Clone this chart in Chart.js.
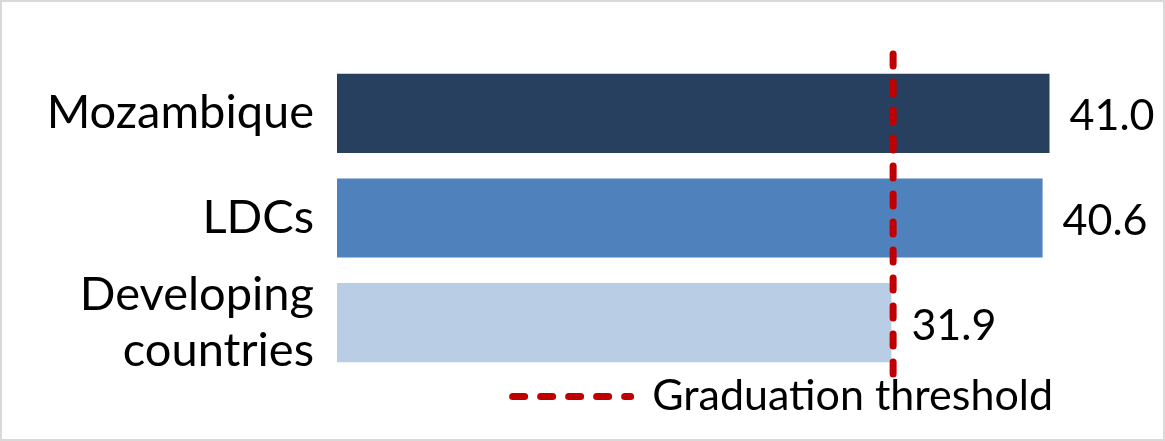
<!DOCTYPE html>
<html>
<head>
<meta charset="utf-8">
<script src="https://cdn.jsdelivr.net/npm/chart.js@4"></script>
<style>
  html, body { margin: 0; padding: 0; background: #fff; }
  #wrap {
    width: 1165px; height: 441px; box-sizing: border-box;
    border: 2px solid #d9d9d9; background: #fff;
  }
  #chart { display: block; }
</style>
</head>
<body>
<div id="wrap"><canvas id="chart" width="1161" height="437"></canvas></div>
<script>
// categories and values
const categories = ['Mozambique', 'LDCs', ['Developing', 'countries']];
const eviValues = [41.0, 40.6, 31.9];
const barColors = ['#27405F', '#4F81BD', '#B9CDE5'];
const threshold = 32;
const thresholdLabel = 'Graduation threshold';

const FONT = 'Lato, "Liberation Sans", sans-serif';
const DASH = [12, 16];

/* value labels at the end of each bar */
const valueLabels = {
    id: 'valueLabels',
    afterDatasetsDraw(chart) {
        const meta = chart.getDatasetMeta(1);
        const ctx = chart.ctx;
        ctx.save();
        ctx.font = '43px ' + FONT;
        ctx.fillStyle = '#000';
        ctx.textAlign = 'left';
        ctx.textBaseline = 'middle';
        meta.data.forEach((bar, i) => {
            ctx.fillText(eviValues[i].toFixed(1), bar.x + 20, bar.y + 3);
        });
        ctx.restore();
    }
};

const ctx = document.getElementById('chart').getContext('2d');

new Chart(ctx, {
    type: 'bar',
    data: {
        labels: categories,
        datasets: [
            {
                type: 'line',
                label: thresholdLabel,
                indexAxis: 'x',
                // runs a little past the plot area, top to bottom
                data: [{ x: threshold, y: 1.022 }, { x: threshold, y: -0.022 }],
                xAxisID: 'x',
                yAxisID: 'y2',
                borderColor: '#C00000',
                backgroundColor: '#C00000',
                borderWidth: 7,
                borderDash: DASH,
                borderCapStyle: 'round',
                pointRadius: 0,
                clip: false,
                order: 0
            },
            {
                type: 'bar',
                label: 'EVI',
                data: eviValues,
                backgroundColor: barColors,
                xAxisID: 'x',
                yAxisID: 'y',
                grouped: false,
                categoryPercentage: 1,
                barPercentage: 0.756,
                order: 1
            }
        ]
    },
    options: {
        indexAxis: 'y',
        responsive: false,
        animation: false,
        layout: { padding: { top: 59, right: 110, bottom: 11, left: 0 } },
        plugins: {
            tooltip: { enabled: false },
            legend: {
                position: 'bottom',
                align: 'end',
                fullSize: false,
                labels: {
                    filter: item => item.text === thresholdLabel,
                    generateLabels(chart) {
                        const items = Chart.defaults.plugins.legend.labels.generateLabels(chart);
                        return items.map(item => Object.assign(item, { lineDash: DASH, lineCap: 'round' }));
                    },
                    usePointStyle: true,
                    pointStyle: 'line',
                    pointStyleWidth: 118,
                    padding: 0,
                    color: '#000',
                    font: { family: FONT, size: 43 }
                }
            }
        },
        scales: {
            x: {
                type: 'linear',
                min: 0,
                max: 41.2,
                display: false
            },
            y: {
                type: 'category',
                grid: { display: false },
                border: { display: false },
                ticks: {
                    color: '#000',
                    padding: 15,
                    autoSkip: false,
                    font: { family: FONT, size: 47 }
                },
                afterFit(scale) {
                    scale.width = 335;
                    scale.paddingTop = 0;
                    scale.paddingBottom = 0;
                }
            },
            y2: {
                type: 'linear',
                min: 0,
                max: 1,
                offset: false,
                display: false
            }
        }
    },
    plugins: [valueLabels]
});
</script>
</body>
</html>
